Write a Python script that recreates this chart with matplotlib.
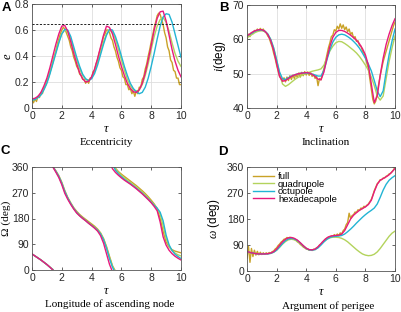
import numpy as np
import matplotlib
matplotlib.use("Agg")
import matplotlib.pyplot as plt

plt.rcParams['font.family'] = ['Liberation Sans', 'DejaVu Sans']
plt.rcParams['mathtext.fontset'] = 'custom'
plt.rcParams['mathtext.rm'] = 'Liberation Serif'
plt.rcParams['mathtext.it'] = 'Liberation Serif:italic'

# ---------------- data ----------------
series_names = ["full", "quadrupole", "octupole", "hexadecapole"]
colors = {"full": "#c9a227", "quadrupole": "#b3d35c", "octupole": "#22b4d4", "hexadecapole": "#e8197c"}

# Panel A: eccentricity (smooth series sampled every 0.2, full every 0.1)
ecc_hexa = [0.07,0.075,0.09,0.12,0.17,0.23,0.31,0.40,0.49,0.57,0.63,0.635,0.59,0.51,0.42,0.34,0.27,0.225,0.20,0.205,
            0.24,0.30,0.38,0.47,0.56,0.63,0.62,0.57,0.49,0.40,0.32,0.25,0.19,0.15,0.125,0.12,0.14,0.19,0.27,0.37,
            0.48,0.60,0.69,0.74,0.745,0.67,0.56,0.45,0.36,0.29,0.24]
ecc_oct = [0.06,0.065,0.08,0.10,0.14,0.19,0.26,0.34,0.42,0.50,0.57,0.605,0.60,0.55,0.47,0.39,0.32,0.26,0.225,0.21,
           0.225,0.265,0.33,0.41,0.49,0.56,0.605,0.60,0.55,0.48,0.40,0.32,0.25,0.19,0.15,0.125,0.11,0.12,0.16,0.23,
           0.32,0.42,0.53,0.63,0.70,0.725,0.72,0.66,0.57,0.48,0.39]
ecc_quad = [0.06,0.065,0.08,0.105,0.145,0.20,0.27,0.35,0.43,0.51,0.57,0.60,0.585,0.53,0.45,0.37,0.30,0.25,0.22,0.215,
            0.235,0.28,0.35,0.43,0.51,0.57,0.60,0.585,0.53,0.45,0.37,0.29,0.22,0.17,0.14,0.13,0.14,0.18,0.25,0.34,
            0.45,0.55,0.63,0.68,0.695,0.66,0.59,0.50,0.42,0.36,0.32]
ecc_full = [0.06,0.04,0.07,0.05,0.09,0.08,0.12,0.11,0.16,0.17,0.22,0.23,0.28,0.31,0.36,0.40,0.44,0.49,0.53,0.57,
            0.60,0.62,0.61,0.58,0.55,0.52,0.47,0.44,0.39,0.36,0.32,0.30,0.26,0.25,0.22,0.22,0.19,0.21,0.19,0.23,
            0.23,0.28,0.29,0.34,0.37,0.42,0.46,0.50,0.55,0.57,0.60,0.60,0.58,0.54,0.52,0.47,0.44,0.39,0.36,0.31,
            0.29,0.24,0.23,0.18,0.18,0.14,0.15,0.11,0.13,0.09,0.13,0.11,0.16,0.16,0.22,0.24,0.30,0.34,0.40,0.45,
            0.51,0.56,0.62,0.66,0.71,0.73,0.72,0.68,0.64,0.58,0.54,0.47,0.44,0.37,0.35,0.29,0.28,0.23,0.23,0.18,0.18]
ecc_ref = 0.65

# Panel B: inclination (deg)
inc_hexa = [61.0,61.6,62.2,62.6,62.8,62.8,62.4,61.4,59.6,56.8,53.0,49.2,47.8,48.0,48.6,49.2,49.6,49.9,50.1,50.2,
            50.3,50.2,49.8,49.2,48.4,48.2,50.5,54.5,58.0,60.6,62.0,62.6,62.6,62.3,61.8,61.2,60.5,59.7,58.7,57.3,
            55.5,52.5,47.0,41.6,43.5,49.5,54.5,58.5,61.5,64.0,66.0]
inc_oct = [61.0,61.5,62.0,62.5,62.7,62.7,62.4,61.6,60.0,57.5,54.0,50.5,48.5,48.3,48.8,49.3,49.6,49.9,50.1,50.2,
           50.2,50.1,49.9,49.6,49.3,49.3,51.0,54.0,57.0,59.2,60.6,61.3,61.5,61.3,60.8,60.2,59.4,58.5,57.4,56.0,
           54.5,52.8,50.8,48.0,45.0,43.3,45.0,50.5,55.5,59.5,63.0]
inc_quad = [60.5,61.0,61.6,62.1,62.4,62.5,62.3,61.5,60.0,57.5,54.0,50.0,47.0,46.3,46.8,47.5,48.2,48.8,49.3,49.7,
            50.1,50.4,50.7,50.9,51.1,51.4,52.5,54.6,56.6,58.0,59.0,59.4,59.3,58.8,58.2,57.5,56.8,56.0,55.0,53.8,
            52.5,51.0,49.0,46.5,43.5,42.3,43.5,48.5,53.5,57.5,61.0]
inc_full = [60.0,61.5,60.8,62.0,61.6,62.6,62.2,63.0,62.5,63.2,62.6,63.0,62.2,62.0,61.0,60.4,59.0,57.8,56.0,54.5,
            52.5,50.8,49.2,48.5,47.8,48.8,47.6,49.0,48.0,49.4,48.3,49.6,48.6,49.8,48.9,50.2,49.0,50.4,49.4,50.6,
            49.6,50.5,49.5,50.3,49.2,49.8,48.6,49.2,46.5,48.6,48.2,50.0,51.5,53.5,55.5,57.5,59.0,60.8,61.2,62.8,
            62.4,63.8,63.0,64.5,63.2,64.2,62.8,63.6,62.2,63.0,61.4,62.0,60.4,60.8,59.4,59.6,58.2,58.0,56.6,56.0,
            54.8,53.0,51.5,48.5,45.5,42.5,41.2,42.0,44.5,47.0,49.5,51.5,53.5,55.0,56.5,58.0,59.5,61.0,62.5,64.0,65.0]

# Panel C: longitude of ascending node (deg, unwrapped; drawn modulo 360)
node_hexa = [56,49,42,35,27,19,10,0,-18,-37,-62,-92,-113,-131,-147,-161,-171,-180,-188,-197,
             -205,-214,-224,-240,-266,-303,-340,-366,-379,-389,-398,-406,-413,-420,-428,-436,-445,-454,-464,-474,
             -485,-498,-513,-552,-604,-633,-651,-663,-672,-679,-685]
node_oct = [56,49,42,35,27,19,10,1,-15,-33,-57,-86,-109,-128,-145,-159,-170,-179,-187,-196,
            -204,-212,-221,-234,-254,-284,-320,-350,-371,-384,-394,-403,-411,-418,-426,-434,-443,-452,-462,-472,
            -483,-494,-504,-518,-548,-598,-632,-652,-665,-673,-680]
node_quad = [56,49,42,35,27,19,10,1,-15,-33,-57,-86,-109,-128,-145,-159,-170,-179,-187,-196,
             -204,-212,-221,-232,-251,-280,-316,-346,-366,-379,-389,-398,-406,-414,-422,-430,-439,-448,-458,-469,
             -481,-492,-505,-525,-565,-610,-637,-652,-661,-667,-671]
node_full = [56,49,42,35,27,19,10,2,-13,-30,-53,-82,-106,-125,-142,-155,-166,-175,-183,-191,
             -199,-207,-217,-230,-250,-278,-312,-345,-364,-376,-385,-393,-401,-409,-417,-425,-434,-443,-453,-464,
             -476,-489,-505,-540,-585,-622,-640,-649,-654,-657,-660]

# Panel D: argument of perigee (deg)
peri_hexa = [68,64,62,60,59,59,59,60,62,67,76,89,101,110,115,116,113,107,98,88,
             79,74,73,76,84,95,106,115,120,122,123,124,128,140,160,180,193,202,210,216,
             222,230,245,275,300,314,320,326,333,343,355]
peri_oct = [68,64,62,60,59,59,59,59,61,65,72,83,95,105,111,113,111,106,97,87,
            78,73,72,74,80,90,101,110,116,119,120,121,123,128,136,145,155,166,176,186,
            195,203,210,218,232,255,280,300,314,323,330]
peri_quad = [68,64,62,60,59,59,59,60,61,65,72,82,93,102,108,110,108,103,96,87,
             79,74,73,76,82,92,102,110,115,117,117,116,113,108,101,92,83,74,66,59,
             55,53,54,58,66,78,92,106,120,131,138]
peri_full = [45,85,30,78,50,72,55,68,56,65,57,63,58,63,59,64,62,67,69,76,
             80,88,93,100,104,110,111,116,114,117,114,114,109,107,101,98,92,88,83,80,
             76,75,72,74,71,75,74,80,82,90,92,100,104,111,112,118,116,122,119,126,
             121,128,123,132,128,140,145,160,168,200,182,192,195,204,203,212,210,218,216,224,
             222,228,232,240,248,262,278,290,302,308,316,316,322,322,328,330,336,338,344,350,360]

tau_ticks = [0, 2, 4, 6, 8, 10]
ecc_ticks = [0, 0.2, 0.4, 0.6, 0.8]
ecc_ticklabels = ["0", "0.2", "0.4", "0.6", "0.8"]
inc_ticks = [40, 50, 60, 70]
ang_ticks = [0, 90, 180, 270, 360]

panel_titles = ["Eccentricity", "Inclination", "Longitude of ascending node", "Argument of perigee"]
panel_letters = ["A", "B", "C", "D"]

# ---------------- figure ----------------
W, H = 401, 312
fig = plt.figure(figsize=(W / 100, H / 100), dpi=100)

def box(l, t, r, b):
    return [l / W, 1 - b / H, (r - l) / W, (b - t) / H]

axA = fig.add_axes(box(32, 4, 181, 108))
axB = fig.add_axes(box(247, 5, 395, 108))
axC = fig.add_axes(box(32, 167, 181, 270))
axD = fig.add_axes(box(247, 167, 395, 271))

def tau_of(vals):
    return np.linspace(0, 10, len(vals))

def draw(ax, data, offsets=(0,)):
    for name, vals in zip(series_names, data):
        v = np.asarray(vals, dtype=float)
        for k, off in enumerate(offsets):
            ax.plot(tau_of(v), v + off, color=colors[name], lw=1.0,
                    label=name if k == 0 else None, solid_joinstyle='round')

draw(axA, [ecc_full, ecc_quad, ecc_oct, ecc_hexa])
axA.axhline(ecc_ref, color='#222222', lw=0.7, ls=(0, (2.2, 1.6)), zorder=5)
draw(axB, [inc_full, inc_quad, inc_oct, inc_hexa])
draw(axC, [node_full, node_quad, node_oct, node_hexa], offsets=(0, 360, 720))
draw(axD, [peri_full, peri_quad, peri_oct, peri_hexa])

tick_fs = 7.5
serif = 'Liberation Serif'
for ax in (axA, axB, axC, axD):
    ax.set_xlim(0, 10)
    ax.set_xticks(tau_ticks)
    ax.tick_params(direction='in', length=2.5, width=0.5, top=True, right=True,
                   labelsize=tick_fs, pad=2, colors='#262626')
    for s in ax.spines.values():
        s.set_color('#555555')
        s.set_linewidth(0.6)
    ax.set_xlabel(r'$\tau$', fontsize=9, labelpad=1.5)

axA.set_ylim(0, 0.8)
axA.set_yticks(ecc_ticks)
axA.set_yticklabels(ecc_ticklabels)
axA.set_ylabel(r'$e$', fontsize=9)
axB.set_ylim(40, 70)
axB.set_yticks(inc_ticks)
axB.set_ylabel(r'$i$(deg)', fontsize=8.5)
axC.set_ylim(0, 360)
axC.set_yticks(ang_ticks)
axC.set_ylabel('Ω (deg)', fontsize=8.2, family=serif)
axD.set_ylim(0, 360)
axD.set_yticks(ang_ticks)
axD.set_ylabel(r'$\omega$ (deg)', fontsize=8.5)

# y-label right edges (pixel x, reference)
for ax, xl, l, r in ((axA, 14, 32, 181), (axB, 228, 247, 395), (axC, 11.5, 32, 181), (axD, 222, 247, 395)):
    ax.yaxis.set_label_coords((xl - l) / (r - l), 0.5)

for ax in (axA, axB):
    ax.grid(True, color='#dedede', lw=0.6)
    ax.set_axisbelow(True)

leg = axD.legend(loc='upper left', bbox_to_anchor=(0.03, 0.97), frameon=False, fontsize=6.8,
                 handlelength=2.2, handletextpad=0.4, labelspacing=-0.15, borderaxespad=0, borderpad=0.2)

# panel titles and letters
title_pos = [(106, 143), (326, 143), (110, 304), (328, 306)]
letter_pos = [(6, 8), (224, 8), (5, 151), (223, 152)]
for (x, y), t in zip(title_pos, panel_titles):
    fig.text(x / W, 1 - y / H, t, ha='center', va='center', fontsize=8, family=serif)
for (x, y), t in zip(letter_pos, panel_letters):
    fig.text(x / W, 1 - y / H, t, ha='center', va='center', fontsize=9.5, fontweight='bold')

fig.savefig('out.png', dpi=100)
